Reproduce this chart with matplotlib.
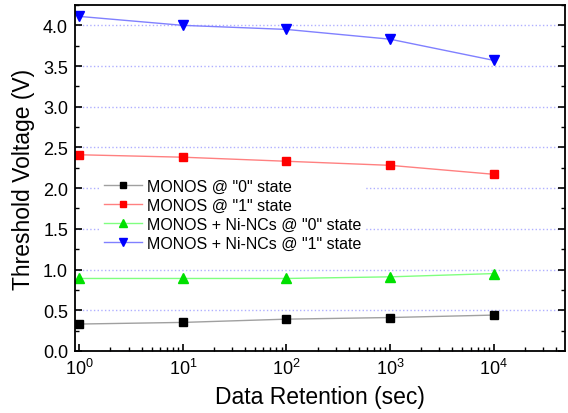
import matplotlib
matplotlib.use("Agg")
import matplotlib.pyplot as plt
from matplotlib.ticker import LogLocator, MultipleLocator, NullFormatter

plt.rcParams['font.family'] = ['Liberation Sans', 'DejaVu Sans']

# data retention time (sec)
t = [1, 10, 100, 1000, 10000]
# threshold voltages (V)
monos_0 = [0.33, 0.35, 0.39, 0.41, 0.44]
monos_1 = [2.41, 2.38, 2.33, 2.28, 2.17]
ni_0 = [0.89, 0.89, 0.89, 0.91, 0.95]
ni_1 = [4.11, 4.00, 3.95, 3.83, 3.57]

labels = ['MONOS @ "0" state', 'MONOS @ "1" state',
          'MONOS + Ni-NCs @ "0" state', 'MONOS + Ni-NCs @ "1" state']

fig = plt.figure(figsize=(5.68, 4.14), dpi=100)
ax = fig.add_axes([0.132, 0.150, 0.863, 0.8355])

ax.plot(t, monos_0, color='#a0a0a0', lw=1, marker='s', ms=6, mfc='black', mec='black', label=labels[0])
ax.plot(t, monos_1, color='#ff8080', lw=1, marker='s', ms=6, mfc='red', mec='red', label=labels[1])
ax.plot(t, ni_0, color='#80ff80', lw=1, marker='^', ms=7, mfc='#00e000', mec='#00e000', label=labels[2])
ax.plot(t, ni_1, color='#8080ff', lw=1, marker='v', ms=7, mfc='blue', mec='blue', label=labels[3])

ax.set_xscale('log')
ax.set_xlim(0.91, 49000)
ax.set_ylim(0, 4.25)
ax.yaxis.set_major_locator(MultipleLocator(0.5))
ax.yaxis.set_minor_locator(MultipleLocator(0.25))
ax.xaxis.set_major_locator(LogLocator(base=10, numticks=10))
ax.xaxis.set_minor_locator(LogLocator(base=10, subs=range(2, 10), numticks=10))
ax.xaxis.set_minor_formatter(NullFormatter())

ax.grid(axis='y', which='major', color='#b0b0ff', ls=':', lw=1)
ax.tick_params(which='both', direction='in', right=True, top=False, labelsize=13)
ax.tick_params(which='major', length=5, width=1.2, pad=5)
ax.tick_params(which='minor', length=3, width=1)
for s in ax.spines.values():
    s.set_linewidth(1.3)

ax.set_xlabel('Data Retention (sec)', fontsize=16.5, labelpad=5)
ax.set_ylabel('Threshold Voltage (V)', fontsize=16.5, labelpad=6)

# white box without border hides the grid behind the legend, as in the original
leg = ax.legend(loc='upper left', bbox_to_anchor=(0.0525, 0.5065), frameon=True,
                fancybox=False, facecolor='white', edgecolor='none', framealpha=1,
                borderpad=0.2, fontsize=11.5, handlelength=2.4, handletextpad=0.3,
                labelspacing=0.25, borderaxespad=0, markerscale=0.75)
leg.set_zorder(5)

fig.savefig('out.png', dpi=100)
